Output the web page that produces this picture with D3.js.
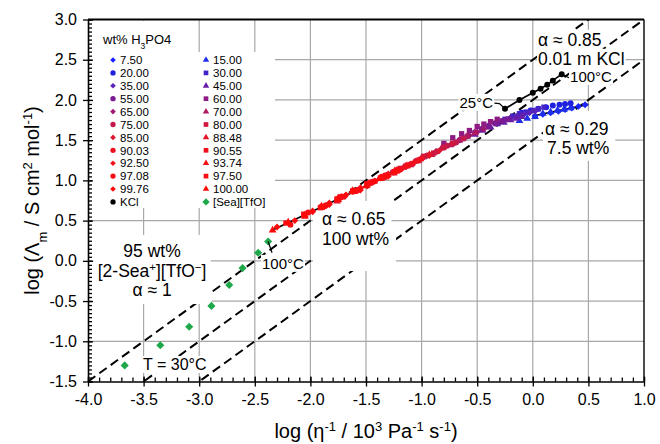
<!DOCTYPE html>
<html>
<head>
<meta charset="utf-8">
<script src="https://cdn.jsdelivr.net/npm/d3@7"></script>
<style>
  body { margin: 0; background: #fff; }
  svg { display: block; font-family: "Liberation Sans", Arial, sans-serif; }
</style>
</head>
<body>
<svg id="chart" width="660" height="444"></svg>
<script>
// ---- axis ticks ----
const xTicks = [-4.0, -3.5, -3.0, -2.5, -2.0, -1.5, -1.0, -0.5, 0.0, 0.5, 1.0];
const yTicks = [-1.5, -1.0, -0.5, 0.0, 0.5, 1.0, 1.5, 2.0, 2.5, 3.0];

// ---- H3PO4 solutions: [log(1/viscosity), log(molar conductivity)], 25-100 °C ----
const wt7_50  = [[0.02,1.80],[0.09,1.82],[0.16,1.84],[0.23,1.86],[0.29,1.88],[0.35,1.90],[0.41,1.92],[0.47,1.94]];
const wt15_00 = [[-0.12,1.74],[-0.05,1.77],[0.02,1.79],[0.09,1.83],[0.16,1.85],[0.22,1.87],[0.28,1.88],[0.34,1.90]];
const wt20_00 = [[-0.10,1.84],[-0.02,1.87],[0.05,1.89],[0.12,1.91],[0.18,1.93],[0.24,1.94],[0.29,1.95],[0.34,1.96]];
const wt30_00 = [[-0.32,1.71],[-0.25,1.76],[-0.18,1.80],[-0.12,1.83],[-0.06,1.85],[0.00,1.87],[0.05,1.89],[0.10,1.91]];
const wt35_00 = [[-0.40,1.68],[-0.33,1.71],[-0.26,1.75],[-0.20,1.78],[-0.14,1.80],[-0.08,1.82],[-0.03,1.84],[0.02,1.86]];
const wt45_00 = [[-0.52,1.57],[-0.45,1.62],[-0.38,1.66],[-0.32,1.70],[-0.26,1.72],[-0.20,1.75],[-0.15,1.77],[-0.10,1.79]];
const wt55_00 = [[-0.66,1.50],[-0.59,1.55],[-0.52,1.60],[-0.46,1.64],[-0.40,1.67],[-0.34,1.71],[-0.28,1.74],[-0.23,1.76]];
const wt60_00 = [[-0.80,1.46],[-0.72,1.53],[-0.64,1.58],[-0.57,1.62],[-0.50,1.67],[-0.44,1.70],[-0.38,1.73],[-0.32,1.76]];
const wt65_00 = [[-0.96,1.30],[-0.87,1.36],[-0.79,1.42],[-0.71,1.46],[-0.64,1.52],[-0.57,1.56],[-0.50,1.60],[-0.44,1.64]];
const wt70_00 = [[-1.10,1.19],[-1.00,1.28],[-0.91,1.32],[-0.82,1.40],[-0.74,1.44],[-0.66,1.50],[-0.59,1.55],[-0.52,1.59]];
const wt75_00 = [[-1.26,1.10],[-1.15,1.17],[-1.05,1.24],[-0.95,1.31],[-0.86,1.36],[-0.77,1.43],[-0.69,1.47],[-0.62,1.52]];
const wt80_00 = [[-1.42,0.99],[-1.30,1.07],[-1.19,1.15],[-1.08,1.21],[-0.98,1.30],[-0.89,1.34],[-0.80,1.41],[-0.72,1.46]];
const wt85_00 = [[-1.62,0.86],[-1.49,0.93],[-1.37,1.03],[-1.25,1.10],[-1.14,1.17],[-1.03,1.25],[-0.93,1.31],[-0.84,1.37]];
const wt88_48 = [[-1.76,0.74],[-1.62,0.86],[-1.49,0.94],[-1.37,1.03],[-1.25,1.09],[-1.14,1.18],[-1.03,1.24],[-0.93,1.32]];
const wt90_03 = [[-1.86,0.69],[-1.72,0.79],[-1.58,0.88],[-1.45,0.98],[-1.33,1.04],[-1.21,1.14],[-1.10,1.20],[-1.00,1.27]];
const wt90_55 = [[-1.90,0.67],[-1.76,0.76],[-1.62,0.87],[-1.49,0.95],[-1.37,1.03],[-1.25,1.10],[-1.14,1.18],[-1.03,1.25]];
const wt92_50 = [[-1.98,0.61],[-1.83,0.72],[-1.69,0.80],[-1.55,0.91],[-1.42,0.99],[-1.30,1.08],[-1.18,1.14],[-1.07,1.22]];
const wt93_74 = [[-2.05,0.57],[-1.90,0.66],[-1.75,0.78],[-1.61,0.86],[-1.48,0.96],[-1.36,1.03],[-1.24,1.12],[-1.13,1.18]];
const wt97_08 = [[-2.18,0.45],[-2.02,0.60],[-1.87,0.68],[-1.72,0.80],[-1.58,0.87],[-1.45,0.97],[-1.33,1.06],[-1.21,1.12]];
const wt97_50 = [[-2.22,0.47],[-2.06,0.58],[-1.91,0.66],[-1.76,0.77],[-1.62,0.86],[-1.49,0.96],[-1.36,1.03],[-1.24,1.11]];
const wt99_76 = [[-2.30,0.42],[-2.14,0.50],[-1.98,0.62],[-1.83,0.70],[-1.68,0.82],[-1.55,0.88],[-1.42,0.99],[-1.30,1.05]];
const wt100_00 = [[-2.34,0.38],[-2.20,0.48],[-2.05,0.55],[-1.90,0.68],[-1.75,0.76],[-1.62,0.87],[-1.50,0.93],[-1.38,1.02]];

// ---- references ----
const kcl = [[-0.25,1.89],[-0.12,2.00],[0.00,2.09],[0.07,2.14],[0.13,2.19],[0.18,2.24],[0.26,2.32]];
const seaTfO = [[-3.67,-1.30],[-3.35,-1.05],[-3.09,-0.82],[-2.89,-0.56],[-2.73,-0.30],[-2.61,-0.09],[-2.47,0.10],[-2.38,0.24]];

// ---- fitted slopes (alpha) ----
const fit100 = [[-2.33,0.39],[-1.30,1.06]];     // alpha ~ 0.65
const fit7_50 = [[0.00,1.80],[0.50,1.945]];     // alpha ~ 0.29

// ---- slope-1 reference lines: log Λ = log(1/η) + offset ----
const lineOffsets = [2.5, 2.0, 1.5];

// ---- legend entries (two columns) ----
const leftLabels  = ["7.50","20.00","35.00","55.00","65.00","75.00","85.00","90.03","92.50","97.08","99.76","KCl"];
const rightLabels = ["15.00","30.00","45.00","60.00","70.00","80.00","88.48","90.55","93.74","97.50","100.00","[Sea][TfO]"];

const series = [
  {label:"7.50",  data:wt7_50,  shape:"diamond",  color:"#1a22ff"},
  {label:"15.00", data:wt15_00, shape:"triangle", color:"#1f2fe6"},
  {label:"20.00", data:wt20_00, shape:"circle",   color:"#1f1fe0"},
  {label:"30.00", data:wt30_00, shape:"square",   color:"#4424c8"},
  {label:"35.00", data:wt35_00, shape:"diamond",  color:"#5a22b8"},
  {label:"45.00", data:wt45_00, shape:"triangle", color:"#6a1ea8"},
  {label:"55.00", data:wt55_00, shape:"circle",   color:"#7c1a94"},
  {label:"60.00", data:wt60_00, shape:"square",   color:"#8e1a84"},
  {label:"65.00", data:wt65_00, shape:"diamond",  color:"#9e1a72"},
  {label:"70.00", data:wt70_00, shape:"triangle", color:"#b01a60"},
  {label:"75.00", data:wt75_00, shape:"circle",   color:"#c21a4e"},
  {label:"80.00", data:wt80_00, shape:"square",   color:"#d0183e"},
  {label:"85.00", data:wt85_00, shape:"diamond",  color:"#de1632"},
  {label:"88.48", data:wt88_48, shape:"triangle", color:"#e61428"},
  {label:"90.03", data:wt90_03, shape:"circle",   color:"#ec1222"},
  {label:"90.55", data:wt90_55, shape:"square",   color:"#ee101e"},
  {label:"92.50", data:wt92_50, shape:"diamond",  color:"#f2101a"},
  {label:"93.74", data:wt93_74, shape:"triangle", color:"#f40e16"},
  {label:"97.08", data:wt97_08, shape:"circle",   color:"#f80c12"},
  {label:"97.50", data:wt97_50, shape:"square",   color:"#fa0c10"},
  {label:"99.76", data:wt99_76, shape:"diamond",  color:"#fd0a0c"},
  {label:"100.00",data:wt100_00,shape:"triangle", color:"#ff0808"},
  {label:"KCl",   data:kcl,     shape:"circle",   color:"#000000"},
  {label:"[Sea][TfO]", data:seaTfO, shape:"bigdiamond", color:"#1fa84a"}
];
const byLabel = new Map(series.map(s => [s.label, s]));

// ---- layout ----
const svg = d3.select("#chart");
const x = d3.scaleLinear().domain([xTicks[0], xTicks[xTicks.length - 1]]).range([88, 644]);
const y = d3.scaleLinear().domain([yTicks[0], yTicks[yTicks.length - 1]]).range([381.5, 19.5]);
const [x0, x1] = x.range();
const [y0, y1] = y.range();

svg.append("defs").append("clipPath").attr("id", "plotClip")
  .append("rect").attr("x", x0).attr("y", y1).attr("width", x1 - x0).attr("height", y0 - y1);

const diamond = d3.symbolDiamond2 || d3.symbolDiamond;
const symbolFor = {
  diamond:    d3.symbol().type(diamond).size(30),
  bigdiamond: d3.symbol().type(diamond).size(42),
  circle:     d3.symbol().type(d3.symbolCircle).size(28),
  square:     d3.symbol().type(d3.symbolSquare).size(28),
  triangle:   d3.symbol().type(d3.symbolTriangle).size(26)
};
const legendSymbol = {
  diamond:    d3.symbol().type(diamond).size(20),
  bigdiamond: d3.symbol().type(diamond).size(34),
  circle:     d3.symbol().type(d3.symbolCircle).size(22),
  square:     d3.symbol().type(d3.symbolSquare).size(22),
  triangle:   d3.symbol().type(d3.symbolTriangle).size(18)
};

// grid
const grid = svg.append("g").attr("stroke", "#a8a8a8").attr("stroke-width", 1.2);
grid.selectAll(".vg").data(xTicks.slice(1, -1)).join("line")
  .attr("x1", d => x(d)).attr("x2", d => x(d)).attr("y1", y0).attr("y2", y1);
grid.selectAll(".hg").data(yTicks.slice(1, -1)).join("line")
  .attr("y1", d => y(d)).attr("y2", d => y(d)).attr("x1", x0).attr("x2", x1);

// slope-1 dashed lines
const dom = x.domain();
svg.append("g").attr("clip-path", "url(#plotClip)")
  .selectAll("line").data(lineOffsets).join("line")
  .attr("x1", x(dom[0])).attr("y1", c => y(dom[0] + c))
  .attr("x2", x(dom[1])).attr("y2", c => y(dom[1] + c))
  .attr("stroke", "#000").attr("stroke-width", 2).attr("stroke-dasharray", "9,5");

const boxLayer = svg.append("g");
const dataLayer = svg.append("g");
const axisLayer = svg.append("g");
const textLayer = svg.append("g").attr("fill", "#000");

// rich text helper: parts are strings or {t, s:"sub"|"sup"}
function richText(sel, parts, size) {
  parts.forEach(p => {
    if (typeof p === "string") {
      sel.append("tspan").text(p);
    } else {
      sel.append("tspan").text(p.t)
        .attr("font-size", size * 0.65)
        .attr("baseline-shift", p.s === "sup" ? "super" : "sub");
    }
  });
}

function addLabel(dx, dy, parts, opt) {
  const t = textLayer.append("text")
    .attr("x", x(dx)).attr("y", y(dy))
    .attr("font-size", opt.size)
    .attr("text-anchor", opt.anchor || "start");
  richText(t, parts, opt.size);
  if (opt.pad) {
    const b = t.node().getBBox();
    const [l, tp, r, bt] = opt.pad;
    boxLayer.append("rect")
      .attr("x", b.x - l).attr("y", b.y - tp)
      .attr("width", b.width + l + r).attr("height", b.height + tp + bt)
      .attr("fill", "#fff");
  }
  return t;
}

// legend background
boxLayer.append("rect").attr("x", 89).attr("y", 21).attr("width", 108).attr("height", 32).attr("fill", "#fff");
boxLayer.append("rect").attr("x", 89).attr("y", 52).attr("width", 186).attr("height", 156).attr("fill", "#fff");

// fitted lines
const line = d3.line().x(d => x(d[0])).y(d => y(d[1]));
dataLayer.append("path").attr("d", line(fit100)).attr("fill", "none").attr("stroke", "#000").attr("stroke-width", 1.6);
dataLayer.append("path").attr("d", line(fit7_50)).attr("fill", "none").attr("stroke", "#000").attr("stroke-width", 1.6);
dataLayer.append("path").attr("d", line(kcl)).attr("fill", "none").attr("stroke", "#000").attr("stroke-width", 1.6);

// points
series.forEach(s => {
  dataLayer.append("g").selectAll("path").data(s.data).join("path")
    .attr("transform", d => `translate(${x(d[0])},${y(d[1])})`)
    .attr("d", symbolFor[s.shape]())
    .attr("fill", s.color);
});

// axes
const fmt = d => d.toFixed(1);
const xMinor = d3.range(-40, 11).map(v => v / 10);
const yMinor = d3.range(-30, 61).map(v => v / 20);

function styleAxis(g) {
  g.selectAll("path.domain").attr("stroke", "#000").attr("stroke-width", 1.6);
  g.selectAll(".tick line").attr("stroke", "#000").attr("stroke-width", 1.3);
  g.selectAll("text").attr("font-family", "Liberation Sans, Arial, sans-serif").attr("font-size", 16).attr("fill", "#000");
}

axisLayer.append("g").attr("transform", `translate(0,${y0})`)
  .call(d3.axisTop(x).tickValues(xMinor).tickSize(4).tickFormat(""))
  .call(g => g.select(".domain").remove()).call(styleAxis);
axisLayer.append("g").attr("transform", `translate(0,${y0})`)
  .call(d3.axisTop(x).tickValues(xTicks).tickSize(5).tickFormat(""))
  .call(g => g.select(".domain").remove()).call(styleAxis);
axisLayer.append("g").attr("transform", `translate(0,${y0})`)
  .call(d3.axisBottom(x).tickValues(xTicks).tickSize(5).tickSizeOuter(0).tickPadding(7).tickFormat(fmt))
  .call(styleAxis);

axisLayer.append("g").attr("transform", `translate(${x0},0)`)
  .call(d3.axisRight(y).tickValues(yMinor).tickSize(4).tickFormat(""))
  .call(g => g.select(".domain").remove()).call(styleAxis);
axisLayer.append("g").attr("transform", `translate(${x0},0)`)
  .call(d3.axisRight(y).tickValues(yTicks).tickSize(5).tickFormat(""))
  .call(g => g.select(".domain").remove()).call(styleAxis);
axisLayer.append("g").attr("transform", `translate(${x0},0)`)
  .call(d3.axisLeft(y).tickValues(yTicks).tickSize(5).tickSizeOuter(0).tickPadding(6).tickFormat(fmt))
  .call(styleAxis);

// frame: top and right
axisLayer.append("line").attr("x1", x0).attr("x2", x1).attr("y1", y1).attr("y2", y1).attr("stroke", "#000").attr("stroke-width", 2);
axisLayer.append("line").attr("x1", x1).attr("x2", x1).attr("y1", y1).attr("y2", y0).attr("stroke", "#000").attr("stroke-width", 1.4);

// axis titles
const xt = svg.append("text").attr("x", (x0 + x1) / 2).attr("y", 438)
  .attr("text-anchor", "middle").attr("font-size", 20);
richText(xt, ["log (η", {t:"-1", s:"sup"}, " / 10", {t:"3", s:"sup"}, " Pa", {t:"-1", s:"sup"}, " s", {t:"-1", s:"sup"}, ")"], 20);

const yt = svg.append("text").attr("transform", `translate(39,${(y0 + y1) / 2}) rotate(-90)`)
  .attr("text-anchor", "middle").attr("font-size", 20);
richText(yt, ["log (Λ", {t:"m", s:"sub"}, " / S cm", {t:"2", s:"sup"}, " mol", {t:"-1", s:"sup"}, ")"], 20);

// legend
const lg = svg.append("g");
const lt = lg.append("text").attr("x", 103).attr("y", 44).attr("font-size", 13);
richText(lt, ["wt% H", {t:"3", s:"sub"}, "PO4"], 13);
function legendColumn(labels, mx) {
  labels.forEach((lab, i) => {
    const s = byLabel.get(lab);
    const cy = 60 + i * 12.9;
    lg.append("path").attr("transform", `translate(${mx},${cy})`)
      .attr("d", legendSymbol[s.shape]())
      .attr("fill", s.color);
    lg.append("text").attr("x", mx + 7).attr("y", cy + 4.2).attr("font-size", 11.5).text(lab);
  });
}
legendColumn(leftLabels, 113);
legendColumn(rightLabels, 206);

// annotations
const big = 17.5;
addLabel(0.047, 2.673, ["α ≈ 0.85"], {size: big, pad: [1, 0, 1, 0]});
addLabel(0.047, 2.437, ["0.01 m KCl"], {size: big, pad: [1, 0, 1, 0]});
addLabel(0.335, 2.225, ["100°C"], {size: 15, pad: [1, 0, 1, 0]});
addLabel(-0.358, 1.902, ["25°C"], {size: 15, anchor: "end", pad: [1, 0, 1, 0]});
addLabel(0.11, 1.566, ["α ≈ 0.29"], {size: big, pad: [2, 8, 4, 0]});
addLabel(0.128, 1.33, ["7.5 wt%"], {size: big, pad: [4, 0, 6, 3]});
addLabel(-1.896, 0.446, ["α ≈ 0.65"], {size: big, pad: [9, 8, 6, 2]});
addLabel(-1.896, 0.197, ["100 wt%"], {size: big, pad: [9, 2, 7, 22]});
addLabel(-2.435, -0.10, ["100°C"], {size: 15, pad: [1, 0, 1, 0]});
addLabel(-3.424, 0.049, ["95 wt%"], {size: big, anchor: "middle", pad: [30, 6, 30, 2]});
addLabel(-3.424, -0.20, ["[2-Sea", {t:"+", s:"sup"}, "][TfO", {t:"−", s:"sup"}, "]"], {size: big, anchor: "middle", pad: [2, 2, 2, 2]});
addLabel(-3.424, -0.437, ["α ≈ 1"], {size: big, anchor: "middle", pad: [40, 2, 40, 4]});
addLabel(-3.505, -1.357, ["T = 30°C"], {size: 16, pad: [2, 0, 2, 0]});

// leader lines for the temperature notes
const lead = d3.line();
textLayer.append("path").attr("fill", "none").attr("stroke", "#000").attr("stroke-width", 1.2)
  .attr("d", lead([[x(-0.345), y(1.96)], [x(-0.30), y(1.955)], [x(kcl[0][0]), y(kcl[0][1])]]));
textLayer.append("path").attr("fill", "none").attr("stroke", "#000").attr("stroke-width", 1.2)
  .attr("d", lead([[x(kcl[kcl.length - 1][0]), y(kcl[kcl.length - 1][1])], [x(0.325), y(2.275)]]));
textLayer.append("path").attr("fill", "none").attr("stroke", "#000").attr("stroke-width", 1.2)
  .attr("d", lead([[x(seaTfO[seaTfO.length - 1][0]), y(seaTfO[seaTfO.length - 1][1])], [x(-2.345), y(0.10)]]));
</script>
</body>
</html>
